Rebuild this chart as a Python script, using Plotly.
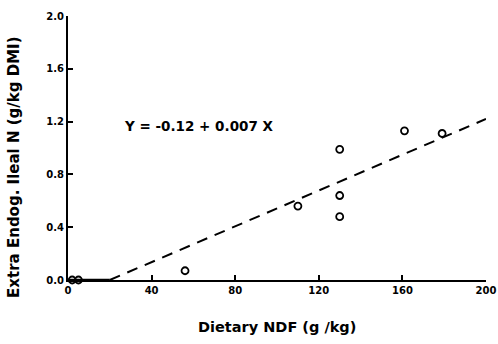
import plotly.graph_objects as go

ndf = [2, 5, 56, 110, 130, 130, 130, 161, 179]
endog_n = [0.0, 0.0, 0.07, 0.56, 0.99, 0.64, 0.48, 1.13, 1.11]
fit_x = [20, 200]
fit_y = [0.0, 1.22]
base_x = [0, 20]
base_y = [0.0, 0.0]
x_ticks = [0, 40, 80, 120, 160, 200]
y_ticks = [0.0, 0.4, 0.8, 1.2, 1.6, 2.0]
y_tick_labels = ["0.0", "0.4", "0.8", "1.2", "1.6", "2.0"]
x_title = "Dietary NDF (g /kg)"
y_title = "Extra Endog. Ileal N (g/kg DMI)"
equation = "Y = -0.12 + 0.007 X"

FONT = "DejaVu Sans"

fig = go.Figure()
fig.add_trace(go.Scatter(x=base_x, y=base_y, mode="lines",
                         line=dict(color="black", width=2.5), showlegend=False, cliponaxis=False))
fig.add_trace(go.Scatter(x=fit_x, y=fit_y, mode="lines",
                         line=dict(color="black", width=2, dash="11px,8px"), showlegend=False, cliponaxis=False))
fig.add_trace(go.Scatter(x=ndf, y=endog_n, mode="markers",
                         marker=dict(symbol="circle-open", size=7, color="black", line=dict(width=1.8)),
                         showlegend=False, cliponaxis=False))

fig.add_annotation(x=26, y=1.17, xref="x", yref="y", text=f"<b>{equation}</b>",
                   showarrow=False, xanchor="left", yanchor="middle",
                   font=dict(family=FONT, size=13.5, color="black"))
fig.add_annotation(x=0.5, y=-0.178, xref="paper", yref="paper", text=f"<b>{x_title}</b>",
                   showarrow=False, xanchor="center", yanchor="middle",
                   font=dict(family=FONT, size=14.5, color="black"))
fig.add_annotation(x=-0.129, y=0.425, xref="paper", yref="paper", text=f"<b>{y_title}</b>",
                   showarrow=False, xanchor="center", yanchor="middle", textangle=-90,
                   font=dict(family=FONT, size=15, color="black"))

fig.update_layout(
    width=498, height=344,
    margin=dict(l=68, r=12, t=16, b=64, autoexpand=False),
    paper_bgcolor="white", plot_bgcolor="white",
    font=dict(family=FONT, color="black"),
)
fig.update_xaxes(range=[0, 200], tickvals=x_ticks, ticktext=[f"<b>{v}</b>" for v in x_ticks],
                 ticks="inside", ticklen=5, tickwidth=1.5, tickcolor="black",
                 showline=True, linecolor="black", linewidth=2, showgrid=False, zeroline=False,
                 tickfont=dict(family=FONT, size=10, color="black"))
fig.update_yaxes(range=[0, 2.0], tickvals=y_ticks, ticktext=[f"<b>{t}</b>" for t in y_tick_labels],
                 ticks="inside", ticklen=5, tickwidth=1.5, tickcolor="black",
                 showline=True, linecolor="black", linewidth=2, showgrid=False, zeroline=False,
                 tickfont=dict(family=FONT, size=10, color="black"))

fig.write_html("out.html", config={"displayModeBar": False},
               post_script="document.body.style.margin='0';document.body.style.overflow='hidden';")
